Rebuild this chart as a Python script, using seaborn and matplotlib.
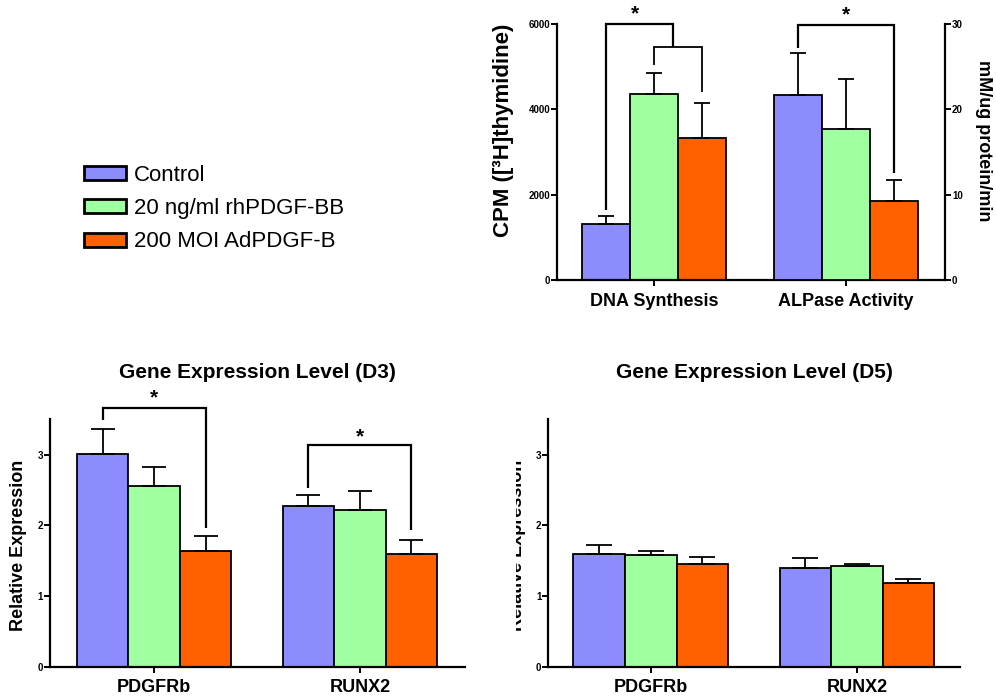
import numpy as np
import pandas as pd
import seaborn as sns
import matplotlib
matplotlib.use("Agg")
import matplotlib.pyplot as plt
from matplotlib.patches import Patch
from matplotlib.transforms import Bbox, TransformedBbox

# ---------------- data ----------------
groups = ["Control", "20 ng/ml rhPDGF-BB", "200 MOI AdPDGF-B"]
colors = ["#8C8CFF", "#A0FFA0", "#FF6000"]

assays = ["DNA Synthesis", "ALPase Activity"]
dna_mean = [1320, 4350, 3320]
dna_err = [170, 500, 836]
alp_mean = [21.7, 17.7, 9.3]
alp_err = [4.9, 5.8, 2.4]

genes = ["PDGFRb", "RUNX2"]
d3_pdgfrb_mean = [3.01, 2.55, 1.63]
d3_pdgfrb_err = [0.35, 0.28, 0.22]
d3_runx2_mean = [2.27, 2.21, 1.59]
d3_runx2_err = [0.16, 0.27, 0.20]
d5_pdgfrb_mean = [1.59, 1.58, 1.45]
d5_pdgfrb_err = [0.13, 0.06, 0.10]
d5_runx2_mean = [1.40, 1.43, 1.18]
d5_runx2_err = [0.14, 0.025, 0.06]

# ---------------- style ----------------
sns.set_style("ticks")
plt.rcParams["font.family"] = ["Liberation Sans", "DejaVu Sans"]
plt.rcParams["font.weight"] = "bold"
plt.rcParams["axes.labelweight"] = "bold"
plt.rcParams["axes.titleweight"] = "bold"
plt.rcParams["axes.edgecolor"] = "black"
plt.rcParams["axes.labelcolor"] = "black"
plt.rcParams["text.color"] = "black"
plt.rcParams["xtick.color"] = "black"
plt.rcParams["ytick.color"] = "black"

fig = plt.figure(figsize=(9.96, 6.96), dpi=100)

BAR_W = 0.75


def draw_bars(ax, means, errs, order, capsize):
    rows = []
    for cat, vals in means.items():
        for g, v in zip(groups, vals):
            rows.append((cat, g, v))
    df = pd.DataFrame(rows, columns=["cat", "group", "value"])
    sns.barplot(data=df, x="cat", y="value", hue="group", order=order,
                hue_order=groups, palette=colors, saturation=1, width=BAR_W,
                gap=0, edgecolor="black", linewidth=1.3, errorbar=None,
                legend=False, ax=ax, zorder=2)
    step = BAR_W / len(groups)
    for p in list(ax.patches):
        xc = p.get_x() + p.get_width() / 2
        h = p.get_height()
        ci = int(round(xc))
        hi = int(round((xc - ci) / step)) + 1
        cat = order[ci]
        if cat in errs:
            e = errs[cat][hi]
            ax.errorbar([xc], [h], yerr=[[0], [e]], fmt="none", ecolor="black",
                        elinewidth=1.3, capsize=capsize, capthick=1.3, zorder=3)


def style_axis(ax, xlabelsize=13):
    ax.tick_params(axis="y", direction="out", length=4, width=1.4,
                   labelsize=7, pad=1, colors="black")
    ax.tick_params(axis="x", direction="out", length=4, width=1.4,
                   labelsize=xlabelsize, pad=5, colors="black")
    for s in ["left", "bottom"]:
        ax.spines[s].set_linewidth(1.6)
    for s in ["top", "right"]:
        ax.spines[s].set_visible(False)
    ax.set_xlabel("")


def line(ax, xs, ys, lw=1.6):
    ax.plot(xs, ys, color="black", lw=lw, clip_on=False,
            solid_joinstyle="miter", solid_capstyle="butt", zorder=4)


def star(ax, x, y):
    ax.text(x, y, "*", ha="center", va="center", fontsize=15,
            fontweight="bold", clip_on=False, color="black")


# ---------------- top panel ----------------
ax = fig.add_axes([0.5592, 0.5977, 0.3896, 0.3678])
draw_bars(ax, {"DNA Synthesis": dna_mean}, {"DNA Synthesis": dna_err}, assays, 6)
ax2 = ax.twinx()
draw_bars(ax2, {"ALPase Activity": alp_mean}, {"ALPase Activity": alp_err}, assays, 6)

ax.set_ylim(0, 6000)
ax.set_yticks([0, 2000, 4000, 6000])
ax2.set_ylim(0, 30)
ax2.set_yticks([0, 10, 20, 30])
ax.set_xlim(-0.505, 1.515)
ax2.set_xlim(-0.505, 1.515)
style_axis(ax)
ax.spines["right"].set_visible(False)
for s in ["left", "top", "bottom"]:
    ax2.spines[s].set_visible(False)
ax2.spines["right"].set_visible(True)
ax2.spines["right"].set_linewidth(1.6)
ax2.tick_params(axis="y", direction="out", length=4, width=1.4, labelsize=7,
                pad=1, colors="black")
ax2.set_xlabel("")

ax.set_ylabel("CPM ([³H]thymidine)", fontsize=16, va="center")
ax.yaxis.set_label_coords(-0.1366, 0.586)
ax2.set_ylabel("mM/ug protein/min", fontsize=13, rotation=270, va="center")
ax2.yaxis.set_label_coords(1.098, 0.543)

# significance brackets (DNA)
line(ax, [-0.25, -0.25, 0.1, 0.1], [1640, 6000, 6000, 5470])
line(ax, [0.0, 0.0, 0.25, 0.25], [5040, 5470, 5470, 4414], lw=1.3)
star(ax, -0.1, 6230)
# ALPase
line(ax2, [0.75, 0.75, 1.25, 1.25], [27.2, 29.9, 29.9, 12.5])
star(ax2, 1.0, 31.1)

# ---------------- D3 panel ----------------
ax3 = fig.add_axes([0.0502, 0.0421, 0.4167, 0.3555])
draw_bars(ax3, {"PDGFRb": d3_pdgfrb_mean, "RUNX2": d3_runx2_mean},
          {"PDGFRb": d3_pdgfrb_err, "RUNX2": d3_runx2_err}, genes, 8.5)
ax3.set_ylim(0, 3.5)
ax3.set_yticks([0, 1, 2, 3])
ax3.set_xlim(-0.505, 1.51)
style_axis(ax3)
ax3.set_title("Gene Expression Level (D3)", fontsize=15, pad=30)
ax3.set_ylabel("Relative Expression", fontsize=13, va="center")
ax3.yaxis.set_label_coords(-0.0747, 0.49)
line(ax3, [-0.25, -0.25, 0.25, 0.25], [3.49, 3.66, 3.66, 1.96])
star(ax3, 0.0, 3.80)
line(ax3, [0.75, 0.75, 1.25, 1.25], [2.53, 3.13, 3.13, 1.93])
star(ax3, 1.0, 3.25)

# ---------------- D5 panel ----------------
ax4 = fig.add_axes([0.5505, 0.0421, 0.4134, 0.3555])
draw_bars(ax4, {"PDGFRb": d5_pdgfrb_mean, "RUNX2": d5_runx2_mean},
          {"PDGFRb": d5_pdgfrb_err, "RUNX2": d5_runx2_err}, genes, 9.5)
ax4.set_ylim(0, 3.5)
ax4.set_yticks([0, 1, 2, 3])
ax4.set_xlim(-0.497, 1.5)
style_axis(ax4)
ax4.set_title("Gene Expression Level (D5)", fontsize=15, pad=30)
yl = ax4.set_ylabel("Relative Expression", fontsize=13, va="center")
ax4.yaxis.set_label_coords(-0.0736, 0.49)
yl.set_clip_on(True)
yl.set_clip_box(TransformedBbox(Bbox([[516 / 996, 0], [1, 1]]), fig.transFigure))

# ---------------- legend ----------------
handles = [Patch(facecolor=c, edgecolor="black", linewidth=2) for c in colors]
fig.legend(handles=handles, labels=groups, loc="upper left",
           bbox_to_anchor=(84 / 996, 1 - 165 / 696), frameon=False,
           prop={"size": 16, "weight": "normal"}, handlelength=1.9,
           handleheight=0.6, handletextpad=0.35, labelspacing=0.55,
           borderpad=0, borderaxespad=0, labelcolor="black")

fig.savefig("out.png", dpi=100)
